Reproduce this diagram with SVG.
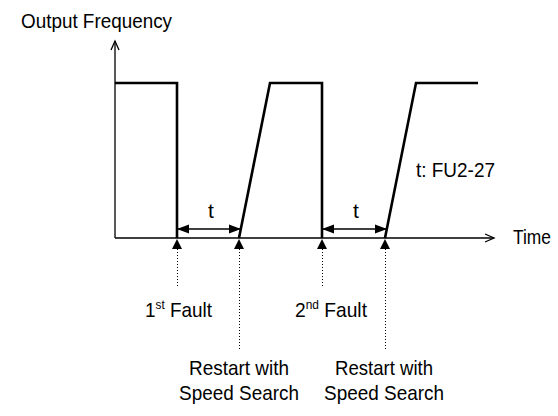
<svg xmlns="http://www.w3.org/2000/svg" width="558" height="416" viewBox="0 0 558 416">
<defs>
<style>
.lbl{font-family:"Liberation Sans",Arial,sans-serif;font-size:21px;fill:#000;}
.sup{font-size:13px;}
.axis{stroke:#000;stroke-width:1.3;fill:none;}
.wave{stroke:#000;stroke-width:2.6;fill:none;stroke-linejoin:miter;}
.dim{stroke:#000;stroke-width:1.6;fill:none;}
.dot{stroke:#000;stroke-width:1;stroke-dasharray:1 2;fill:none;}
.tri{fill:#000;}
</style>
<marker id="open" markerWidth="12" markerHeight="12" refX="10" refY="5" orient="auto" markerUnits="userSpaceOnUse" viewBox="0 0 12 10">
<path d="M1,1 L10,5 L1,9" fill="none" stroke="#000" stroke-width="1.3"/>
</marker>
<marker id="fill" markerWidth="12" markerHeight="10" refX="11" refY="5" orient="auto-start-reverse" markerUnits="userSpaceOnUse" viewBox="0 0 12 10">
<path d="M0,0.5 L12,5 L0,9.5 Z" fill="#000"/>
</marker>
</defs>
<g id="axes">
<line class="axis" x1="115" y1="238" x2="115" y2="41" marker-end="url(#open)"/>
<line class="axis" x1="115" y1="238" x2="494" y2="238" marker-end="url(#open)"/>
</g>
<g id="waveform">
<polyline class="wave" points="115,83 177,83 177,238"/>
<polyline class="wave" points="239,238 270,83 322,83 322,238"/>
<polyline class="wave" points="385,238 416,83 478,83"/>
</g>
<g id="connectors">
<line class="dim" x1="178" y1="229" x2="240" y2="229" marker-start="url(#fill)" marker-end="url(#fill)"/>
<line class="dim" x1="323" y1="229" x2="386" y2="229" marker-start="url(#fill)" marker-end="url(#fill)"/>
<line class="dot" x1="177.5" y1="249" x2="177.5" y2="288"/>
<line class="dot" x1="239.5" y1="249" x2="239.5" y2="350"/>
<line class="dot" x1="322.5" y1="249" x2="322.5" y2="288"/>
<line class="dot" x1="385.5" y1="249" x2="385.5" y2="350"/>
<path class="tri" d="M177,239 L182,249 L172,249 Z"/>
<path class="tri" d="M239,239 L244,249 L234,249 Z"/>
<path class="tri" d="M322,239 L327,249 L317,249 Z"/>
<path class="tri" d="M385,239 L390,249 L380,249 Z"/>
</g>
<g id="labels">
<text class="lbl" x="21" y="28" textLength="151" lengthAdjust="spacingAndGlyphs">Output Frequency</text>
<text class="lbl" x="513" y="244" textLength="38" lengthAdjust="spacingAndGlyphs">Time</text>
<text class="lbl" x="208" y="218">t</text>
<text class="lbl" x="353" y="218">t</text>
<text class="lbl" x="416" y="177" textLength="79" lengthAdjust="spacingAndGlyphs">t: FU2-27</text>
<text class="lbl" x="145" y="317" textLength="67" lengthAdjust="spacingAndGlyphs">1<tspan class="sup" dy="-8">st</tspan><tspan dy="8"> Fault</tspan></text>
<text class="lbl" x="295" y="317" textLength="72" lengthAdjust="spacingAndGlyphs">2<tspan class="sup" dy="-8">nd</tspan><tspan dy="8"> Fault</tspan></text>
<text class="lbl" x="239" y="375" text-anchor="middle" textLength="100" lengthAdjust="spacingAndGlyphs">Restart with</text>
<text class="lbl" x="239" y="400" text-anchor="middle" textLength="120" lengthAdjust="spacingAndGlyphs">Speed Search</text>
<text class="lbl" x="384" y="375" text-anchor="middle" textLength="98" lengthAdjust="spacingAndGlyphs">Restart with</text>
<text class="lbl" x="384" y="400" text-anchor="middle" textLength="120" lengthAdjust="spacingAndGlyphs">Speed Search</text>
</g>
</svg>
